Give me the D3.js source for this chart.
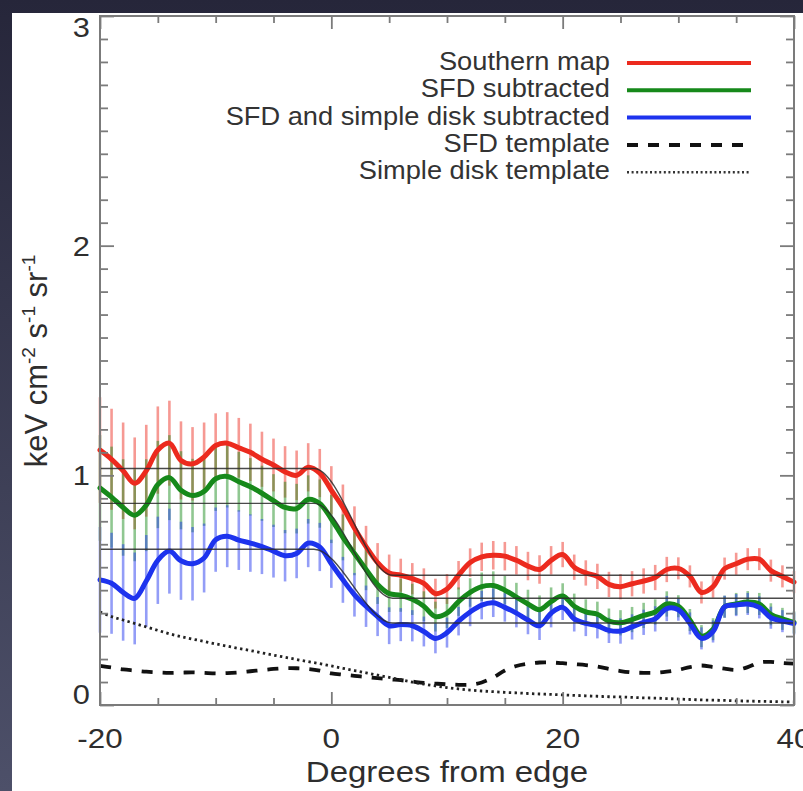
<!DOCTYPE html>
<html><head><meta charset="utf-8">
<script src="https://cdn.jsdelivr.net/npm/d3@7"></script>
<style>html,body{margin:0;padding:0;background:#2c2c42;overflow:hidden}</style>
</head><body><svg id="c" width="803" height="791"></svg>
<script>
// ---------- data ----------
const degrees = [-20,-19,-18,-17,-16,-15,-14,-13,-12,-11,-10,-9,-8,-7,-6,-5,-4,-3,-2,-1,0,1,2,3,4,5,6,7,8,9,10,11,12,13,14,15,16,17,18,19,20,21,22,23,24,25,26,27,28,29,30,31,32,33,34,35,36,37,38,39,40];
const southernMap = [1.11,1.07,1.02,0.965,1.02,1.11,1.14,1.065,1.05,1.08,1.13,1.14,1.12,1.10,1.07,1.045,1.015,1.00,1.035,1.01,0.935,0.86,0.77,0.69,0.62,0.575,0.565,0.55,0.53,0.485,0.505,0.565,0.62,0.645,0.652,0.648,0.63,0.605,0.59,0.63,0.655,0.60,0.575,0.56,0.525,0.515,0.528,0.54,0.555,0.59,0.595,0.56,0.49,0.515,0.594,0.615,0.635,0.635,0.585,0.56,0.535];
const sfdSubtracted = [0.945,0.905,0.86,0.826,0.87,0.96,0.99,0.935,0.912,0.93,0.985,0.995,0.972,0.95,0.922,0.89,0.86,0.855,0.895,0.877,0.81,0.73,0.66,0.59,0.525,0.485,0.478,0.46,0.43,0.385,0.40,0.45,0.49,0.515,0.52,0.50,0.47,0.44,0.415,0.45,0.475,0.43,0.405,0.395,0.365,0.358,0.372,0.39,0.405,0.44,0.43,0.37,0.30,0.33,0.428,0.44,0.448,0.44,0.395,0.375,0.36];
const sfdDiskSubtracted = [0.545,0.53,0.49,0.464,0.54,0.63,0.67,0.628,0.615,0.64,0.72,0.735,0.718,0.705,0.69,0.67,0.65,0.66,0.705,0.688,0.615,0.545,0.48,0.43,0.385,0.345,0.35,0.345,0.32,0.29,0.315,0.365,0.405,0.435,0.445,0.425,0.40,0.37,0.345,0.40,0.425,0.375,0.355,0.345,0.325,0.322,0.34,0.36,0.375,0.42,0.415,0.355,0.29,0.32,0.428,0.435,0.44,0.425,0.38,0.365,0.355];
const errorBars = [0.23,0.22,0.21,0.20,0.20,0.19,0.185,0.17,0.16,0.15,0.14,0.135,0.13,0.125,0.12,0.115,0.112,0.108,0.105,0.105,0.105,0.10,0.095,0.09,0.085,0.08,0.072,0.068,0.065,0.065,0.065,0.062,0.062,0.062,0.062,0.062,0.062,0.062,0.062,0.062,0.055,0.055,0.055,0.055,0.055,0.055,0.055,0.055,0.055,0.055,0.048,0.048,0.048,0.048,0.048,0.048,0.048,0.048,0.048,0.048,0.048];
const sfdTemplate = [0.17,0.163,0.155,0.15,0.145,0.142,0.14,0.141,0.142,0.14,0.138,0.139,0.142,0.147,0.152,0.157,0.16,0.16,0.157,0.15,0.138,0.132,0.127,0.122,0.117,0.112,0.108,0.102,0.096,0.093,0.09,0.088,0.088,0.098,0.12,0.15,0.17,0.18,0.185,0.185,0.182,0.178,0.174,0.167,0.157,0.148,0.142,0.14,0.14,0.145,0.153,0.165,0.172,0.165,0.158,0.153,0.165,0.185,0.188,0.183,0.18];
const diskTemplate = [0.405,0.385,0.37,0.355,0.34,0.325,0.31,0.298,0.287,0.277,0.266,0.256,0.246,0.237,0.227,0.217,0.208,0.198,0.189,0.18,0.17,0.16,0.15,0.14,0.13,0.12,0.11,0.10,0.091,0.083,0.076,0.07,0.065,0.061,0.058,0.055,0.053,0.05,0.048,0.046,0.044,0.042,0.04,0.038,0.036,0.035,0.033,0.031,0.03,0.028,0.026,0.024,0.022,0.021,0.02,0.018,0.017,0.016,0.015,0.014,0.013];
const fitHigh = [1.03, 0.878, 0.678];
const fitLow = [0.565, 0.465, 0.357];
const fitBreaks = [-1.5, 5.3];
const xTicks = [-20, 0, 20, 40];
const xMinorTicks = [-15, -10, -5, 5, 10, 15, 25, 30, 35];
const yTicks = [0, 1, 2, 3];
const yMinorTicks = [0.1,0.2,0.3,0.4,0.5,0.6,0.7,0.8,0.9,1.1,1.2,1.3,1.4,1.5,1.6,1.7,1.8,1.9,2.1,2.2,2.3,2.4,2.5,2.6,2.7,2.8,2.9];
const seriesNames = ["Southern map", "SFD subtracted", "SFD and simple disk subtracted"];
const templateNames = ["SFD template", "Simple disk template"];
const xTitle = "Degrees from edge";
const seriesColors = ["#ec2a1e", "#16891a", "#1d33ee"];

// ---------- setup ----------
const svg = d3.select("#c");
const defs = svg.append("defs");
const grad = defs.append("linearGradient").attr("id","bg").attr("x1",0).attr("y1",0).attr("x2",0).attr("y2",1);
grad.append("stop").attr("offset","0%").attr("stop-color","#26263a");
grad.append("stop").attr("offset","100%").attr("stop-color","#4d5069");
svg.append("rect").attr("width",803).attr("height",791).attr("fill","url(#bg)");
svg.append("rect").attr("x",12).attr("y",13).attr("width",791).attr("height",778).attr("fill","#ffffff");

const L = 100, R = 794, T = 16, B = 705;
const x = d3.scaleLinear().domain([-20, 40]).range([L, R]);
const y = d3.scaleLinear().domain([0, 3]).range([B, T]);
const FONT = "'Liberation Sans', Arial, Helvetica, sans-serif";
const axisColor = "#7b7b7b";

// ---------- error bars ----------
const allSeries = [southernMap, sfdSubtracted, sfdDiskSubtracted];
allSeries.forEach((vals, si) => {
  svg.append("g").selectAll("line").data(degrees).join("line")
    .attr("x1", d => x(d)).attr("x2", d => x(d))
    .attr("y1", (d, i) => y(vals[i] - errorBars[i]))
    .attr("y2", (d, i) => y(vals[i] + errorBars[i]))
    .attr("stroke", seriesColors[si]).attr("stroke-opacity", 0.48).attr("stroke-width", 2.6);
});

// ---------- main curves ----------
const line = d3.line().x(d => x(d[0])).y(d => y(d[1])).curve(d3.curveCatmullRom.alpha(0.5));
allSeries.forEach((vals, si) => {
  svg.append("path").datum(degrees.map((d, i) => [d, vals[i]]))
    .attr("d", line).attr("fill", "none")
    .attr("stroke", seriesColors[si]).attr("stroke-width", 5)
    .attr("stroke-linejoin", "round").attr("stroke-linecap", "round");
});

// ---------- fit lines ----------
const fitLine = d3.line().x(d => x(d[0])).y(d => y(d[1])).curve(d3.curveMonotoneX);
fitHigh.forEach((h, i) => {
  const pts = [[-20, h], [fitBreaks[0], h], [fitBreaks[1], fitLow[i]], [40, fitLow[i]]];
  svg.append("path").datum(pts).attr("d", fitLine).attr("fill", "none")
    .attr("stroke", "#2a2a2a").attr("stroke-opacity", 0.85).attr("stroke-width", 1.4);
});

// ---------- templates ----------
svg.append("path").datum(degrees.map((d, i) => [d, sfdTemplate[i]]))
  .attr("d", line).attr("fill", "none").attr("stroke", "#111")
  .attr("stroke-width", 3.8).attr("stroke-dasharray", "11 10");
svg.append("path").datum(degrees.map((d, i) => [d, diskTemplate[i]]))
  .attr("d", line).attr("fill", "none").attr("stroke", "#222")
  .attr("stroke-width", 2.8).attr("stroke-dasharray", "2.4 3.4");

// ---------- axes ----------
function styleAxis(g) {
  g.select(".domain").remove();
  g.selectAll(".tick line").attr("stroke", axisColor).attr("stroke-width", 1.8);
  g.selectAll(".tick text").remove();
}
svg.append("g").attr("transform", `translate(0,${B})`).call(d3.axisBottom(x).tickValues(xTicks).tickSize(-13)).call(styleAxis);
svg.append("g").attr("transform", `translate(0,${B})`).call(d3.axisBottom(x).tickValues(xMinorTicks).tickSize(-7)).call(styleAxis);
svg.append("g").attr("transform", `translate(0,${T})`).call(d3.axisTop(x).tickValues(xTicks).tickSize(-13)).call(styleAxis);
svg.append("g").attr("transform", `translate(0,${T})`).call(d3.axisTop(x).tickValues(xMinorTicks).tickSize(-7)).call(styleAxis);
svg.append("g").attr("transform", `translate(${L},0)`).call(d3.axisLeft(y).tickValues(yTicks).tickSize(-14)).call(styleAxis);
svg.append("g").attr("transform", `translate(${L},0)`).call(d3.axisLeft(y).tickValues(yMinorTicks).tickSize(-8)).call(styleAxis);
svg.append("g").attr("transform", `translate(${R},0)`).call(d3.axisRight(y).tickValues(yTicks).tickSize(-14)).call(styleAxis);
svg.append("g").attr("transform", `translate(${R},0)`).call(d3.axisRight(y).tickValues(yMinorTicks).tickSize(-8)).call(styleAxis);
svg.append("rect").attr("x", L).attr("y", T).attr("width", R - L).attr("height", B - T)
  .attr("fill", "none").attr("stroke", axisColor).attr("stroke-width", 2);

// ---------- tick labels ----------
svg.append("g").selectAll("text").data(xTicks).join("text")
  .attr("transform", d => `translate(${x(d)},748) scale(1.12,1)`)
  .attr("text-anchor", "middle").attr("font-family", FONT).attr("font-size", 28).attr("fill", "#2e2e2e")
  .text(d => d);
svg.append("g").selectAll("text").data(yTicks).join("text")
  .attr("transform", d => {
    const cy = Math.max(T + 11, Math.min(B - 11, y(d)));
    return `translate(90,${cy + 10}) scale(1.1,1)`;
  })
  .attr("text-anchor", "end").attr("font-family", FONT).attr("font-size", 28).attr("fill", "#2e2e2e")
  .text(d => d);

// ---------- axis titles ----------
svg.append("text").attr("transform", `translate(${(L + R) / 2},782) scale(1.1,1)`)
  .attr("text-anchor", "middle").attr("font-family", FONT).attr("font-size", 30).attr("fill", "#2e2e2e")
  .text(xTitle);
const yt = svg.append("text").attr("transform", "translate(47,361) rotate(-90)")
  .attr("text-anchor", "middle").attr("font-family", FONT).attr("font-size", 31).attr("fill", "#2e2e2e");
yt.append("tspan").text("keV cm");
yt.append("tspan").attr("dy", -12).attr("font-size", 19).text("-2");
yt.append("tspan").attr("dy", 12).text(" s");
yt.append("tspan").attr("dy", -12).attr("font-size", 19).text("-1");
yt.append("tspan").attr("dy", 12).text(" sr");
yt.append("tspan").attr("dy", -12).attr("font-size", 19).text("-1");

// ---------- legend ----------
const legendItems = [
  {label: seriesNames[0], color: seriesColors[0], width: 4, dash: null},
  {label: seriesNames[1], color: seriesColors[1], width: 4, dash: null},
  {label: seriesNames[2], color: seriesColors[2], width: 4, dash: null},
  {label: templateNames[0], color: "#111", width: 4, dash: "11 10"},
  {label: templateNames[1], color: "#333", width: 2.4, dash: "2 2.6"}
];
const lg = svg.append("g");
legendItems.forEach((it, i) => {
  const by = 70 + i * 27.3;
  lg.append("text").attr("transform", `translate(610,${by}) scale(1.09,1)`)
    .attr("text-anchor", "end").attr("font-family", FONT).attr("font-size", 25).attr("fill", "#333")
    .text(it.label);
  const ln = lg.append("line").attr("x1", 627).attr("x2", 751).attr("y1", by - 7).attr("y2", by - 7)
    .attr("stroke", it.color).attr("stroke-width", it.width);
  if (it.dash) ln.attr("stroke-dasharray", it.dash);
});
</script></body></html>
